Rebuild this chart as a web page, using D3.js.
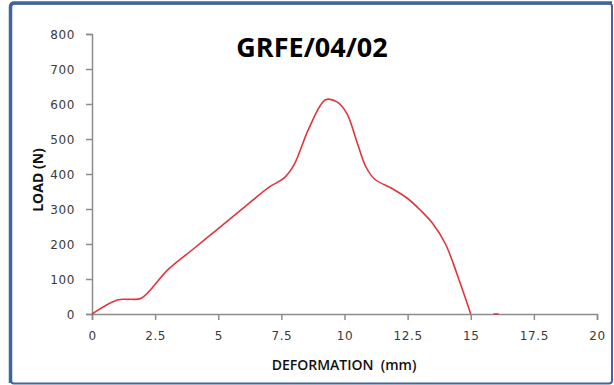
<!DOCTYPE html>
<html><head><meta charset="utf-8">
<script src="https://cdn.jsdelivr.net/npm/d3@7"></script>
<style>html,body{margin:0;padding:0;background:#fff;}svg{display:block;}text{white-space:pre;}</style>
</head><body>
<svg id="c" width="614" height="385"></svg>
<script>
const title = "GRFE/04/02";
const xLabel = "DEFORMATION  (mm)";
const yLabel = "LOAD (N)";
const xTicks = [0, 2.5, 5, 7.5, 10, 12.5, 15, 17.5, 20];
const yTicks = [0, 100, 200, 300, 400, 500, 600, 700, 800];
const deformation = [0, 1, 1.5, 1.95, 3, 4, 5, 6, 7, 7.6, 8, 8.6, 9.25, 9.7, 10.1, 10.5, 10.85, 11.2, 11.9, 12.5, 13, 13.5, 14, 14.5, 15];
const load =        [0, 40, 42, 45, 126, 185, 244, 303, 362, 388, 426, 532, 612, 606, 572, 490, 420, 385, 358, 330, 297, 258, 200, 105, 0];
const strayX = [16];
const strayY = [0];

const svg = d3.select("#c");
// frame
svg.append("rect").attr("x", 11).attr("y", 3.5).attr("width", 601).attr("height", 380)
  .attr("rx", 3).attr("fill", "#fff").attr("stroke", "#41649a").attr("stroke-width", 2);
svg.append("path").attr("d", "M10.5,383 L10.5,7 Q10.5,3 14.5,3 L612,3")
  .attr("fill", "none").attr("stroke", "#41649a").attr("stroke-width", 3.5);

const x = d3.scaleLinear().domain([0, 20]).range([92, 597]);
const y = d3.scaleLinear().domain([0, 800]).range([314, 34]);

const axisColor = "#8c8c8c";
const gx = svg.append("g").attr("transform", `translate(0,${y(0)})`)
  .call(d3.axisBottom(x).tickValues(xTicks).tickFormat(d3.format("")).tickSize(6).tickPadding(11));
const gy = svg.append("g").attr("transform", `translate(${x(0)},0)`)
  .call(d3.axisLeft(y).tickValues(yTicks).tickSize(6).tickPadding(11));
[gx, gy].forEach(g => {
  g.select(".domain").attr("stroke", axisColor).attr("stroke-width", 1.5);
  g.selectAll(".tick line").attr("stroke", axisColor).attr("stroke-width", 1.5);
  g.selectAll(".tick text").attr("fill", "#3a3a3a").attr("font-family", "DejaVu Sans, sans-serif")
    .attr("font-size", 12).attr("letter-spacing", 0.6);
});
gy.selectAll(".tick text").attr("dy", "0.35em");

// line
const line = d3.line().x((d, i) => x(deformation[i])).y((d, i) => y(load[i])).curve(d3.curveCatmullRom.alpha(0.5));
svg.append("path").datum(load).attr("d", line).attr("fill", "none")
  .attr("stroke", "#e0353d").attr("stroke-width", 1.6);
// stray segment near 16
svg.selectAll(".stray").data(strayX).enter().append("line")
  .attr("x1", d => x(d) - 2.5).attr("x2", d => x(d) + 2.5)
  .attr("y1", (d, i) => y(strayY[i])).attr("y2", (d, i) => y(strayY[i]))
  .attr("stroke", "#e0353d").attr("stroke-width", 1.6);

// title
svg.append("text").attr("x", 312).attr("y", 57).attr("text-anchor", "middle")
  .attr("font-family", "Open Sans, sans-serif").attr("font-weight", "bold").attr("font-size", 27)
  .attr("fill", "#000").text(title);
// axis labels
svg.append("text").attr("x", 344).attr("y", 370).attr("text-anchor", "middle")
  .attr("font-family", "Open Sans, sans-serif").attr("font-weight", 600).attr("font-size", 14)
  .attr("fill", "#111").text(xLabel);
svg.append("text").attr("transform", "translate(43,180) rotate(-90)").attr("text-anchor", "middle")
  .attr("font-family", "Open Sans, sans-serif").attr("font-weight", "bold").attr("font-size", 14)
  .attr("fill", "#111").text(yLabel);
</script>
</body></html>
